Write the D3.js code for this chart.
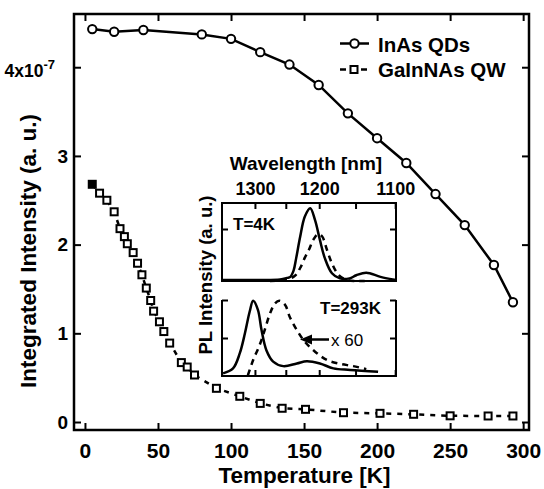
<!DOCTYPE html>
<html>
<head>
<meta charset="utf-8">
<script src="https://cdn.jsdelivr.net/npm/d3@7"></script>
<style>
  html, body { margin: 0; padding: 0; background: #fff; }
  svg { display: block; font-family: "Liberation Sans", Arial, Helvetica, sans-serif; font-weight: bold; }
  .narrow { font-family: "Liberation Sans Narrow", "Arial Narrow", sans-serif; }
</style>
</head>
<body>
<div id="chart"></div>
<script>
// main panel: integrated PL intensity vs temperature
const qdTemperature = [5, 20, 40, 80, 100, 120, 140, 160, 180, 200, 220, 240, 260, 280, 293];
const qdIntensity = [4.43, 4.40, 4.42, 4.37, 4.32, 4.17, 4.03, 3.80, 3.48, 3.20, 2.92, 2.57, 2.22, 1.77, 1.35];
const qwTemperature = [5, 10, 15, 20, 24, 27, 29, 33, 36, 39, 42, 45, 47, 51, 54, 58, 66, 70, 75, 90, 106, 120, 135, 151, 177, 202, 225, 250, 276, 293];
const qwIntensity = [2.68, 2.58, 2.50, 2.37, 2.18, 2.09, 2.01, 1.91, 1.79, 1.66, 1.51, 1.37, 1.25, 1.13, 1.02, 0.89, 0.67, 0.62, 0.53, 0.38, 0.29, 0.21, 0.155, 0.143, 0.105, 0.098, 0.087, 0.07, 0.068, 0.068];
const xTicks = [0, 50, 100, 150, 200, 250, 300];
const yTicks = [0, 1, 2, 3, 4];
const seriesNames = ["InAs QDs", "GaInNAs QW"];

// inset: PL spectra (wavelength in nm, intensity in a.u.)
const insetTicks = [1300, 1250, 1200, 1150, 1100];
const insetLabels = [1300, 1200, 1100];
const qd4kWavelength = [1358, 1292, 1259, 1248, 1243, 1238, 1234, 1228, 1221, 1213, 1206, 1199, 1192, 1182, 1171, 1158, 1149, 1136, 1118, 1099];
const qd4kIntensity = [0.02, 0.02, 0.03, 0.06, 0.08, 0.2, 0.44, 0.85, 1.24, 1.40, 1.17, 0.79, 0.44, 0.15, 0.05, 0.05, 0.11, 0.16, 0.08, 0.02];
const qw4kWavelength = [1275, 1251, 1236, 1228, 1221, 1215, 1209, 1202, 1196, 1189, 1182, 1173, 1163, 1151, 1138];
const qw4kIntensity = [0.0, 0.02, 0.1, 0.25, 0.45, 0.6, 0.78, 0.9, 0.86, 0.6, 0.34, 0.12, 0.03, 0.0, 0.0];
const qd293Wavelength = [1356, 1338, 1326, 1317, 1309, 1303, 1295, 1289, 1281, 1270, 1254, 1233, 1218, 1199, 1180, 1157, 1121];
const qd293Intensity = [0.07, 0.2, 0.6, 1.13, 1.69, 1.98, 1.74, 1.21, 0.68, 0.38, 0.26, 0.33, 0.39, 0.33, 0.2, 0.16, 0.11];
const qw293Wavelength = [1312, 1303, 1292, 1283, 1275, 1267, 1260, 1251, 1244, 1233, 1221, 1206, 1189, 1171, 1153, 1136];
const qw293Intensity = [0.02, 0.42, 0.82, 1.25, 1.65, 1.91, 1.98, 1.87, 1.56, 1.21, 0.90, 0.64, 0.42, 0.32, 0.26, 0.18];

const width = 544;
const height = 489;
const margin = { top: 14, right: 15, bottom: 59, left: 74 };
const hc = 1239.84; // nm * eV

const svg = d3.select("#chart").append("svg").attr("width", width).attr("height", height);

const x = d3.scaleLinear().domain([-7.5, 304]).range([margin.left, width - margin.right]);
const y = d3.scaleLinear().domain([-0.09, 4.6]).range([height - margin.bottom, margin.top]);

const tidy = (g) => {
  g.select(".domain").remove();
  g.selectAll(".tick line").attr("stroke", "#000").attr("stroke-width", 2);
};

// main axes (ticks point inward on all four sides)
svg.append("g")
  .attr("class", "narrow")
  .attr("transform", `translate(0,${y.range()[0]})`)
  .call(d3.axisBottom(x).tickValues(xTicks).tickSizeInner(-7).tickSizeOuter(0).tickPadding(13))
  .call(tidy)
  .call((g) => g.selectAll("text").attr("font-size", 21).attr("fill", "#000"));

svg.append("g")
  .attr("transform", `translate(0,${margin.top})`)
  .call(d3.axisTop(x).tickValues(xTicks).tickSizeInner(-7).tickSizeOuter(0).tickFormat(""))
  .call(tidy);

svg.append("g")
  .attr("class", "narrow")
  .attr("transform", `translate(${margin.left},0)`)
  .call(d3.axisLeft(y).tickValues(yTicks).tickSizeInner(-7).tickSizeOuter(0).tickPadding(6).tickFormat(d3.format("d")))
  .call(tidy)
  .call((g) => g.selectAll("text").attr("font-size", 19).attr("fill", "#000"))
  .call((g) =>
    g.selectAll(".tick text")
      .filter((d) => d === 4)
      .text(null)
      .attr("x", -19)
      .attr("dy", "0.5em")
      .call((t) => t.append("tspan").attr("font-size", 17.5).text("4x10"))
      .call((t) => t.append("tspan").attr("font-size", 13).attr("dy", "-0.65em").text("-7"))
  );

svg.append("g")
  .attr("transform", `translate(${x.range()[1]},0)`)
  .call(d3.axisRight(y).tickValues(yTicks).tickSizeInner(-7).tickSizeOuter(0).tickFormat(""))
  .call(tidy);

svg.append("rect")
  .attr("x", x.range()[0])
  .attr("y", margin.top)
  .attr("width", x.range()[1] - x.range()[0])
  .attr("height", y.range()[0] - margin.top)
  .attr("fill", "none")
  .attr("stroke", "#000")
  .attr("stroke-width", 2.5);

svg.append("text")
  .attr("x", (x.range()[0] + x.range()[1]) / 2 + 3)
  .attr("y", 483)
  .attr("text-anchor", "middle")
  .attr("font-size", 22.5)
  .text("Temperature [K]");

svg.append("text")
  .attr("transform", "translate(36,251) rotate(-90)")
  .attr("text-anchor", "middle")
  .attr("font-size", 22.5)
  .text("Integrated Intensity (a. u.)");

// main series
const qdPoints = qdTemperature.map((t, i) => [t, qdIntensity[i]]);
const qwPoints = qwTemperature.map((t, i) => [t, qwIntensity[i]]);
const line = d3.line().x((d) => x(d[0])).y((d) => y(d[1]));

svg.append("path")
  .datum(qwPoints)
  .attr("d", line)
  .attr("fill", "none")
  .attr("stroke", "#000")
  .attr("stroke-width", 2.5)
  .attr("stroke-dasharray", "5,6");

svg.append("path")
  .datum(qdPoints)
  .attr("d", line)
  .attr("fill", "none")
  .attr("stroke", "#000")
  .attr("stroke-width", 2.5);

const squareSize = 7;
svg.append("g")
  .selectAll("rect")
  .data(qwPoints)
  .join("rect")
  .attr("x", (d) => x(d[0]) - squareSize / 2)
  .attr("y", (d) => y(d[1]) - squareSize / 2)
  .attr("width", squareSize)
  .attr("height", squareSize)
  .attr("fill", (_, i) => (i === 0 ? "#000" : "#fff"))
  .attr("stroke", "#000")
  .attr("stroke-width", 2);

svg.append("g")
  .selectAll("circle")
  .data(qdPoints)
  .join("circle")
  .attr("cx", (d) => x(d[0]))
  .attr("cy", (d) => y(d[1]))
  .attr("r", 4.2)
  .attr("fill", "#fff")
  .attr("stroke", "#000")
  .attr("stroke-width", 2);

// legend
const legend = svg.append("g").attr("transform", "translate(340,0)");
legend.append("line").attr("x1", 0).attr("x2", 29).attr("y1", 43.5).attr("y2", 43.5).attr("stroke", "#000").attr("stroke-width", 2.5);
legend.append("circle").attr("cx", 14.5).attr("cy", 43.5).attr("r", 4.2).attr("fill", "#fff").attr("stroke", "#000").attr("stroke-width", 2);
legend.append("line").attr("x1", 0).attr("x2", 28).attr("y1", 69.5).attr("y2", 69.5).attr("stroke", "#000").attr("stroke-width", 2.5).attr("stroke-dasharray", "6,15");
legend.append("rect").attr("x", 14 - squareSize / 2).attr("y", 69.5 - squareSize / 2).attr("width", squareSize).attr("height", squareSize).attr("fill", "#fff").attr("stroke", "#000").attr("stroke-width", 2);
legend.selectAll("text")
  .data(seriesNames)
  .join("text")
  .attr("x", 38)
  .attr("y", (_, i) => 51.5 + i * 25)
  .attr("font-size", 20.5)
  .text((d) => d);

// inset: x axis is linear in photon energy, labelled in wavelength
const inset = { left: 222, right: 396, topA: 203, bottomA: 281, topB: 300, bottomB: 376 };
const ex = d3.scaleLinear().domain([hc / 1358, hc / 1099]).range([inset.left, inset.right]);
const yA = d3.scaleLinear().domain([0, 1.5]).range([inset.bottomA, inset.topA]);
const yB = d3.scaleLinear().domain([0, 2]).range([inset.bottomB, inset.topB]);
const energyTicks = insetTicks.map((w) => hc / w);

svg.append("g")
  .attr("transform", `translate(0,${inset.topA})`)
  .call(
    d3.axisTop(ex)
      .tickValues(energyTicks)
      .tickSizeInner(-6)
      .tickSizeOuter(0)
      .tickPadding(8)
      .tickFormat((e) => {
        const w = Math.round(hc / e);
        return insetLabels.includes(w) ? w : "";
      })
  )
  .call(tidy)
  .call((g) => g.selectAll("text").attr("font-size", 18).attr("fill", "#000"));

svg.append("g")
  .attr("transform", `translate(0,${inset.bottomB})`)
  .call(d3.axisBottom(ex).tickValues(energyTicks).tickSizeInner(-6).tickSizeOuter(0).tickFormat(""))
  .call(tidy);

svg.append("g").attr("transform", `translate(${inset.left},0)`).call(d3.axisLeft(yA).tickValues([1]).tickSizeInner(-6).tickSizeOuter(0).tickFormat("")).call(tidy);
svg.append("g").attr("transform", `translate(${inset.right},0)`).call(d3.axisRight(yA).tickValues([1]).tickSizeInner(-6).tickSizeOuter(0).tickFormat("")).call(tidy);
svg.append("g").attr("transform", `translate(${inset.left},0)`).call(d3.axisLeft(yB).tickValues([1, 2]).tickSizeInner(-6).tickSizeOuter(0).tickFormat("")).call(tidy);
svg.append("g").attr("transform", `translate(${inset.right},0)`).call(d3.axisRight(yB).tickValues([1, 2]).tickSizeInner(-6).tickSizeOuter(0).tickFormat("")).call(tidy);

svg.append("rect")
  .attr("x", inset.left)
  .attr("y", inset.topA)
  .attr("width", inset.right - inset.left)
  .attr("height", inset.bottomA - inset.topA)
  .attr("fill", "none")
  .attr("stroke", "#000")
  .attr("stroke-width", 2);

svg.append("path")
  .attr("d", `M${inset.left},${inset.topB}V${inset.bottomB}H${inset.right}V${inset.topB}`)
  .attr("fill", "none")
  .attr("stroke", "#000")
  .attr("stroke-width", 2);

const spectra = [
  { w: qd4kWavelength, v: qd4kIntensity, y: yA, dash: null },
  { w: qw4kWavelength, v: qw4kIntensity, y: yA, dash: "6,5" },
  { w: qd293Wavelength, v: qd293Intensity, y: yB, dash: null },
  { w: qw293Wavelength, v: qw293Intensity, y: yB, dash: "6,5" },
];

svg.append("g")
  .selectAll("path")
  .data(spectra)
  .join("path")
  .attr("d", (s) =>
    d3.line()
      .x((d) => ex(hc / d[0]))
      .y((d) => s.y(d[1]))
      .curve(d3.curveCatmullRom.alpha(0.5))(s.w.map((w, i) => [w, s.v[i]]))
  )
  .attr("fill", "none")
  .attr("stroke", "#000")
  .attr("stroke-width", 2.5)
  .attr("stroke-dasharray", (s) => s.dash);

svg.append("text").attr("x", 306).attr("y", 170).attr("text-anchor", "middle").attr("font-size", 19).text("Wavelength [nm]");
svg.append("text").attr("x", 233).attr("y", 230).attr("font-size", 17).text("T=4K");
svg.append("text").attr("x", 381).attr("y", 314).attr("text-anchor", "end").attr("font-size", 17).text("T=293K");
svg.append("text").attr("x", 331).attr("y", 346).attr("font-size", 17).attr("font-weight", "normal").text("x 60");
svg.append("line").attr("x1", 309).attr("x2", 329).attr("y1", 339.5).attr("y2", 339.5).attr("stroke", "#000").attr("stroke-width", 2.5);
svg.append("path").attr("d", "M300,339.5L312,334.5L312,344.5Z").attr("fill", "#000");
svg.append("text")
  .attr("transform", "translate(212,275) rotate(-90)")
  .attr("text-anchor", "middle")
  .attr("font-size", 18.5)
  .text("PL Intensity (a. u.)");
</script>
</body>
</html>
